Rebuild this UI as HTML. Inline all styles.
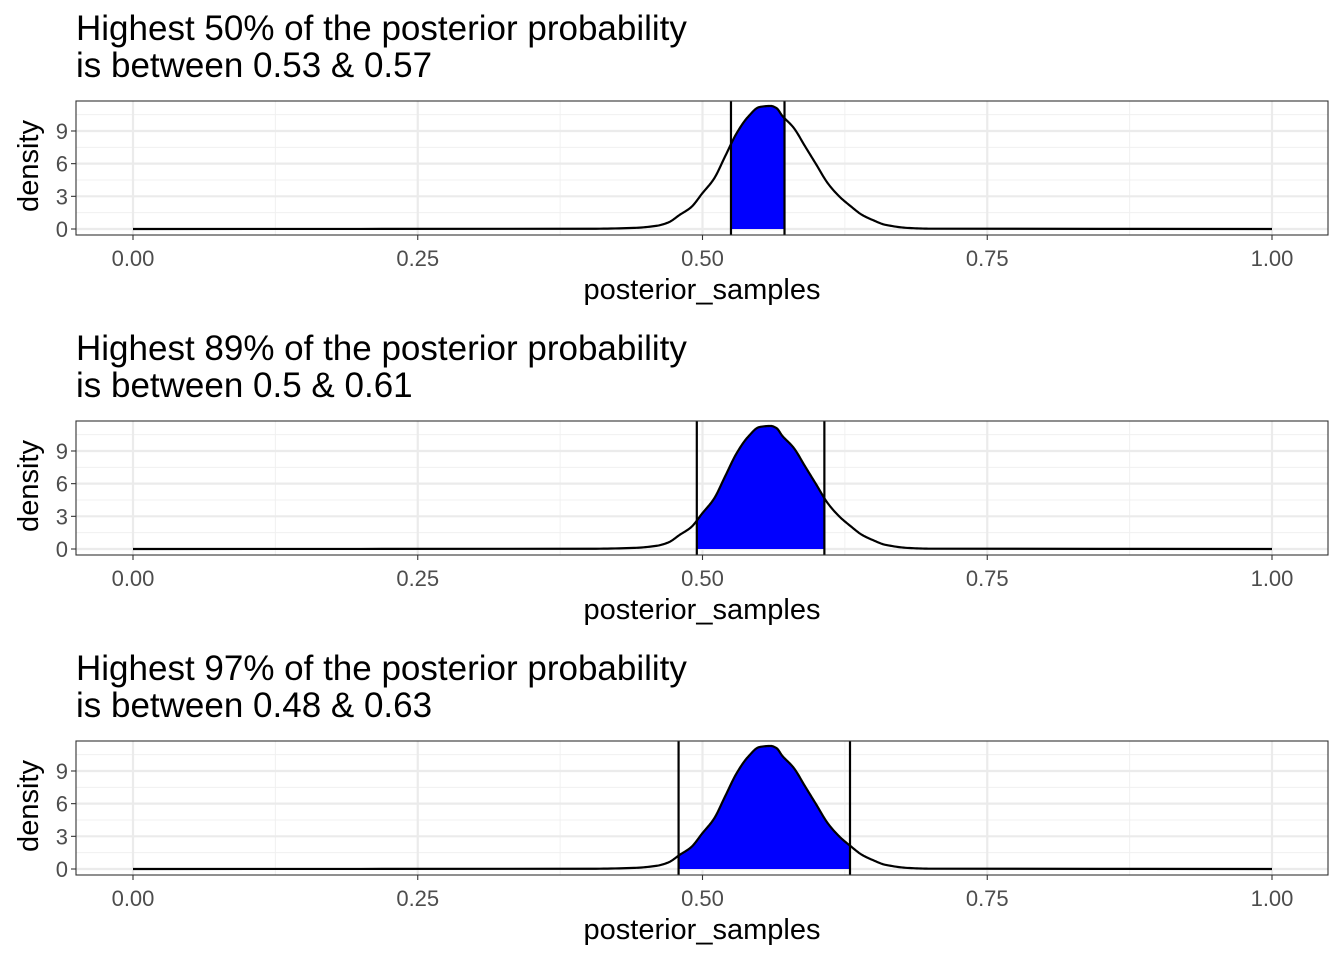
<!DOCTYPE html>
<html><head><meta charset="utf-8"><style>
body{margin:0;background:#fff;width:1344px;height:960px;overflow:hidden;font-family:"Liberation Sans",Arial,sans-serif}
</style></head><body>
<svg id="chart" width="1344" height="960" xmlns="http://www.w3.org/2000/svg"></svg>
<script>
const xs=[0,0.40,0.44,0.46,0.47,0.48,0.49,0.50,0.51,0.52,0.53,0.54,0.55,0.56,0.565,0.57,0.58,0.59,0.60,0.61,0.62,0.63,0.64,0.65,0.66,0.68,0.70,1];
const dens=[0,0.02,0.1,0.3,0.6,1.3,2.0,3.3,4.6,6.7,8.8,10.3,11.2,11.3,11.1,10.4,9.3,7.6,5.9,4.2,3.0,2.1,1.3,0.8,0.4,0.1,0.03,0];
const probs=["50%","89%","97%"];
const lowers=[0.525,0.495,0.479];
const uppers=[0.572,0.607,0.6295];
const lowerLabels=["0.53","0.5","0.48"];
const upperLabels=["0.57","0.61","0.63"];
const xTicks=[0,0.25,0.5,0.75,1];
const xTickLabels=["0.00","0.25","0.50","0.75","1.00"];
const yTicks=[0,3,6,9];

const svg=document.getElementById('chart');
const NS="http://www.w3.org/2000/svg";
function mk(tag,attrs,parent){const e=document.createElementNS(NS,tag);for(const k in attrs)e.setAttribute(k,attrs[k]);(parent||svg).appendChild(e);return e;}
// monotone cubic (Fritsch-Carlson) sampling for smooth rendering without overshoot
function smoothPts(){
  const n=xs.length,d=[],m=[];
  for(let i=0;i<n-1;i++)d.push((dens[i+1]-dens[i])/(xs[i+1]-xs[i]));
  m[0]=d[0];m[n-1]=d[n-2];
  for(let i=1;i<n-1;i++){m[i]=(d[i-1]*d[i]<=0)?0:2/(1/d[i-1]+1/d[i]);}
  const out=[];
  for(let i=0;i<n-1;i++){
    const h=xs[i+1]-xs[i],steps=h>0.1?2:12;
    for(let s=0;s<steps;s++){
      const t=s/steps,t2=t*t,t3=t2*t;
      const y=(2*t3-3*t2+1)*dens[i]+(t3-2*t2+t)*h*m[i]+(-2*t3+3*t2)*dens[i+1]+(t3-t2)*h*m[i+1];
      out.push([xs[i]+t*h,Math.max(0,y)]);
    }
  }
  out.push([xs[n-1],dens[n-1]]);
  return out;
}
const sm=smoothPts();
function interp(x){for(let i=0;i<sm.length-1;i++){if(x>=sm[i][0]&&x<=sm[i+1][0]){const t=(x-sm[i][0])/(sm[i+1][0]-sm[i][0]);return sm[i][1]+t*(sm[i+1][1]-sm[i][1]);}}return 0;}

probs.forEach((p,k)=>{
  const off=k*320;
  const L=76,R=1328,T=101+off,B=235+off;
  const sx=v=>133+v*1139;
  const sy=v=>229+off-v*10.89;
  const g=mk('g',{});
  
  
  const t1=mk('text',{x:76,y:40+off,'font-size':35,fill:'#000'},g);
  t1.textContent='Highest '+p+' of the posterior probability';
  
  
  const t2=mk('text',{x:76,y:77+off,'font-size':35,fill:'#000'},g);
  t2.textContent='is between '+lowerLabels[k]+' & '+upperLabels[k];
  
  
  [0.125,0.375,0.625,0.875].forEach(v=>mk('line',{x1:sx(v),x2:sx(v),y1:T,y2:B,stroke:'#f0f0f0','stroke-width':1},g));
  [1.5,4.5,7.5,10.5].forEach(v=>mk('line',{x1:L,x2:R,y1:sy(v),y2:sy(v),stroke:'#f0f0f0','stroke-width':1},g));
  xTicks.forEach(v=>mk('line',{x1:sx(v),x2:sx(v),y1:T,y2:B,stroke:'#ebebeb','stroke-width':2.2},g));
  yTicks.forEach(v=>mk('line',{x1:L,x2:R,y1:sy(v),y2:sy(v),stroke:'#ebebeb','stroke-width':2.2},g));
  let pts=[[lowers[k],0],[lowers[k],interp(lowers[k])]];
  sm.forEach(q=>{if(q[0]>lowers[k]&&q[0]<uppers[k])pts.push(q);});
  pts.push([uppers[k],interp(uppers[k])],[uppers[k],0]);
  const f=mk('polygon',{points:pts.map(q=>sx(q[0])+','+sy(q[1])).join(' '),fill:'#0000ff'},g);
  
  
  const c=mk('polyline',{points:sm.map(q=>sx(q[0])+','+sy(q[1])).join(' '),fill:'none',stroke:'#000','stroke-width':2.2,'stroke-linejoin':'round'},g);
  
  
  [lowers[k],uppers[k]].forEach(v=>{
    const l=mk('line',{x1:sx(v),x2:sx(v),y1:T,y2:B,stroke:'#000','stroke-width':2.2},g);
    
    
  });
  mk('rect',{x:L,y:T,width:R-L,height:B-T,fill:'none',stroke:'#333','stroke-width':1.1},g);
  xTicks.forEach((v,i)=>{
    mk('line',{x1:sx(v),x2:sx(v),y1:B,y2:B+5,stroke:'#333','stroke-width':1.1},g);
    const tl=mk('text',{x:sx(v),y:B+31,'font-size':22,fill:'#4d4d4d','text-anchor':'middle'},g);
    tl.textContent=xTickLabels[i];
    
    
  });
  yTicks.forEach(v=>{
    mk('line',{x1:L-5,x2:L,y1:sy(v),y2:sy(v),stroke:'#333','stroke-width':1.1},g);
    const tl=mk('text',{x:L-8,y:sy(v)+8,'font-size':22,fill:'#4d4d4d','text-anchor':'end'},g);
    tl.textContent=v;
    
    
  });
  const xt=mk('text',{x:702,y:299+off,'font-size':29,fill:'#000','text-anchor':'middle'},g);
  xt.textContent='posterior_samples';
  
  
  const yt=mk('text',{x:0,y:0,'font-size':29,fill:'#000','text-anchor':'middle',transform:'translate(38,'+(166+off)+') rotate(-90)'},g);
  yt.textContent='density';
  
  
});
</script>
</body></html>
